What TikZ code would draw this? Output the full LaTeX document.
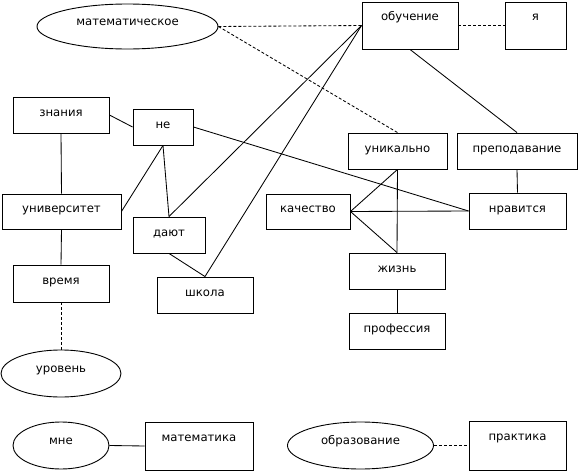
\documentclass[tikz,border=0pt]{standalone}
\usepackage{fontspec}
\setmainfont{DejaVu Sans}
\usetikzlibrary{shapes.geometric}
\begin{document}
\begin{tikzpicture}[x=1pt,y=-1pt,
  every node/.style={font=\fontsize{11.7}{13}\selectfont, inner sep=0pt},
  bx/.style={draw, line width=0.9pt, rectangle, text height=7pt, text depth=5pt},
  bxt/.style={draw, line width=0.9pt, rectangle, text height=1pt, text depth=11pt},
  el/.style={draw, line width=0.9pt, ellipse, text height=5pt, text depth=7pt},
  ln/.style={line width=0.85pt},
  dl/.style={line width=0.85pt, dash pattern=on 3pt off 2pt}]
\useasboundingbox (0,0) rectangle (579,471);
% rectangles
\node[bxt, minimum width=96, minimum height=47] (obuch) at (410,25.5) {обучение};
\node[bxt, minimum width=61, minimum height=47] (ya) at (535.5,25.5) {я};
\node[bx, minimum width=96, minimum height=36] (znan) at (61,115) {знания};
\node[bx, minimum width=60, minimum height=36] (ne) at (163,127) {не};
\node[bx, minimum width=119, minimum height=35] (univ) at (61.5,211.5) {университет};
\node[bx, minimum width=72, minimum height=36] (dayut) at (169,235) {дают};
\node[bx, minimum width=84, minimum height=35] (kach) at (308,211.5) {качество};
\node[bx, minimum width=99, minimum height=36] (unik) at (397.5,151) {уникально};
\node[bx, minimum width=120, minimum height=36] (prep) at (517,151) {преподавание};
\node[bx, minimum width=97, minimum height=36] (nrav) at (517.5,211) {нравится};
\node[bx, minimum width=96, minimum height=37] (vrem) at (61,283.5) {время};
\node[bx, minimum width=96, minimum height=36] (shk) at (205,295) {школа};
\node[bx, minimum width=96, minimum height=36] (zhiz) at (397,271) {жизнь};
\node[bx, minimum width=96, minimum height=36] (prof) at (397,331) {профессия};
\node[bxt, minimum width=108, minimum height=48] (matka) at (199,446) {математика};
\node[bxt, minimum width=97, minimum height=49] (prakt) at (517.5,445.5) {практика};
% ellipses
\node[el, minimum width=181, minimum height=45] (matsk) at (127.5,26.5) {математическое};
\node[el, minimum width=120, minimum height=47] (urov) at (61,373.5) {уровень};
\node[el, minimum width=96, minimum height=47] (mne) at (61,445.5) {мне};
\node[el, minimum width=146, minimum height=47] (obraz) at (360.5,445.5) {образование};
% connectors
\draw[dl] (matsk.east) -- (obuch.west);
\draw[dl] (matsk.east) -- (unik.north);
\draw[dl] (obuch.east) -- (ya.west);
\draw[ln] (obuch.west) -- (dayut.north);
\draw[ln] (obuch.west) -- (shk.north);
\draw[ln] (obuch.south) -- (prep.north);
\draw[ln] (znan.east) -- (ne.west);
\draw[ln] (znan.south) -- (univ.north);
\draw[ln] (ne.south) -- (univ.east);
\draw[ln] (ne.south) -- (dayut.north);
\draw[ln] (ne.east) -- (nrav.west);
\draw[ln] (kach.east) -- (nrav.west);
\draw[ln] (kach.east) -- (unik.south);
\draw[ln] (kach.east) -- (zhiz.north);
\draw[ln] (unik.south) -- (zhiz.north);
\draw[ln] (prep.south) -- (nrav.north);
\draw[ln] (univ.south) -- (vrem.north);
\draw[dl] (vrem.south) -- (urov.north);
\draw[ln] (dayut.south) -- (shk.north);
\draw[ln] (zhiz.south) -- (prof.north);
\draw[ln] (mne.east) -- (matka.west);
\draw[dl] (obraz.east) -- (prakt.west);
\end{tikzpicture}
\end{document}
